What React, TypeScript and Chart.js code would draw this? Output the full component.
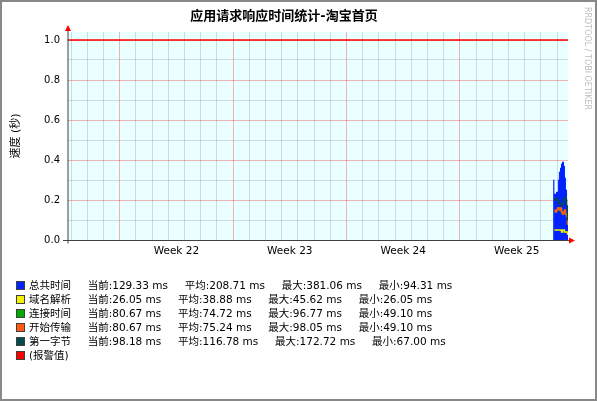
import React, { useEffect, useRef } from "react";
import { Chart, registerables } from "chart.js";

Chart.register(...registerables);

// ---------- text ----------
const chartTitle = "应用请求响应时间统计-淘宝首页";
const yAxisTitle = "速度 (秒)";
const watermark = "RRDTOOL / TOBI OETIKER";

// ---------- x axis (days) ----------
const xMin = 0.78;
const xMax = 31.67;
const dayLines = [1, 2, 3, 4, 5, 6, 7, 8, 9, 10, 11, 12, 13, 14, 15, 16, 17, 18, 19, 20, 21, 22, 23, 24, 25, 26, 27, 28, 29, 30, 31];
const weekStarts = [4, 11, 18, 25];
const weekLabelPos = [7.5, 14.5, 21.5, 28.5];
const weekLabels = ["Week 22", "Week 23", "Week 24", "Week 25"];

// ---------- y axis (seconds) ----------
const yMaxValue = 1.04;
const yTicks = [0, 0.1, 0.2, 0.3, 0.4, 0.5, 0.6, 0.7, 0.8, 0.9, 1.0];
const alarmLevel = 1.0;

// ---------- series ----------
const times = [30.76, 30.8, 30.83, 30.9, 30.96, 31.02, 31.08, 31.14, 31.21, 31.27, 31.33, 31.39, 31.45, 31.51, 31.58, 31.64, 31.67];
const totalTime = [0.3, 0.0, 0.23, 0.22, 0.24, 0.23, 0.3, 0.34, 0.36, 0.38, 0.39, 0.37, 0.31, 0.25, 0.13, 0.13, 0.13];
const dnsTime = [null, null, 0.05, 0.05, 0.05, 0.05, 0.05, 0.05, 0.05, 0.04, 0.05, 0.05, 0.04, 0.04, 0.04, 0.03, 0.03];
const connectTime = [null, null, 0.14, 0.14, 0.15, 0.15, 0.16, 0.15, 0.15, 0.14, 0.13, 0.14, 0.14, 0.13, 0.12, 0.08, 0.08];
const startTransfer = [null, null, 0.15, 0.14, 0.15, 0.16, 0.16, 0.15, 0.16, 0.14, 0.13, 0.14, 0.15, 0.13, 0.12, 0.08, 0.08];
const firstByte = [null, null, 0.2, 0.21, 0.2, 0.2, 0.19, 0.18, 0.18, 0.17, 0.18, 0.2, 0.21, 0.2, 0.17, 0.1, 0.1];

// ---------- legend ----------
const seriesNames = ["总共时间", "域名解析", "连接时间", "开始传输", "第一字节"];
const currentMs = ["129.33", "26.05", "80.67", "80.67", "98.18"];
const averageMs = ["208.71", "38.88", "74.72", "75.24", "116.78"];
const maximumMs = ["381.06", "45.62", "96.77", "98.05", "172.72"];
const minimumMs = ["94.31", "26.05", "49.10", "49.10", "67.00"];
const alarmName = "(报警值)";

const seriesColors = ["#0022FF", "#F2F200", "#00AA00", "#FF5A10", "#004C4C"];
const alarmColor = "#FF0000";

const FONT = "'DejaVu Sans', 'Noto Sans CJK SC', sans-serif";
const MAJOR = "rgba(255,0,0,0.30)";
const MINOR = "rgba(130,140,140,0.30)";

const rrdPlugin = {
  id: "rrdDecor",
  beforeDatasetsDraw(chart: any) {
    // nothing; background drawn in beforeDraw
  },
  beforeDraw(chart: any) {
    const { ctx, chartArea: a } = chart;
    ctx.save();
    ctx.fillStyle = "#EAFFFF";
    ctx.fillRect(a.left, a.top, a.right - a.left, a.bottom - a.top);
    ctx.restore();
  },
  afterDraw(chart: any) {
    const { ctx, chartArea: a } = chart;
    const yb = Math.round(a.bottom) + 0.5;
    const xl = Math.round(a.left) - 0.5 + 0.5;
    ctx.save();
    ctx.strokeStyle = "#404040";
    ctx.lineWidth = 1;
    ctx.beginPath();
    ctx.moveTo(xl - 5, yb);
    ctx.lineTo(a.right + 3, yb);
    ctx.moveTo(xl, yb + 3);
    ctx.lineTo(xl, a.top - 3);
    ctx.stroke();
    ctx.fillStyle = "#FF0000";
    ctx.beginPath();
    ctx.moveTo(a.right + 1, yb - 3);
    ctx.lineTo(a.right + 7, yb);
    ctx.lineTo(a.right + 1, yb + 3);
    ctx.closePath();
    ctx.fill();
    ctx.beginPath();
    ctx.moveTo(xl - 3, a.top - 1);
    ctx.lineTo(xl, a.top - 7);
    ctx.lineTo(xl + 3, a.top - 1);
    ctx.closePath();
    ctx.fill();
    ctx.restore();
  },
};

function toPoints(arr: (number | null)[]) {
  return times.map((t, i) => ({ x: t, y: arr[i] }));
}

export default function App() {
  const canvasRef = useRef<HTMLCanvasElement | null>(null);

  useEffect(() => {
    const canvas = canvasRef.current;
    if (!canvas) return;
    const lineSeries = [dnsTime, connectTime, startTransfer, firstByte];
    const chart = new Chart(canvas, {
      type: "line",
      data: {
        datasets: [
          {
            label: alarmName,
            data: [
              { x: xMin, y: alarmLevel },
              { x: xMax, y: alarmLevel },
            ],
            borderColor: alarmColor,
            borderWidth: 1.5,
            pointRadius: 0,
            fill: false,
            order: 0,
          },
          ...lineSeries
            .map((arr, i) => ({
              label: seriesNames[i + 1],
              data: toPoints(arr),
              borderColor: seriesColors[i + 1],
              borderWidth: 1.5,
              pointRadius: 0,
              stepped: true,
              fill: false,
              spanGaps: false,
              order: 4 - i,
            }))
            .reverse(),
          {
            label: seriesNames[0],
            data: toPoints(totalTime),
            borderColor: seriesColors[0],
            backgroundColor: seriesColors[0],
            borderWidth: 1,
            pointRadius: 0,
            stepped: true,
            fill: "origin",
            order: 10,
          },
        ] as any,
      },
      options: {
        animation: false,
        responsive: false,
        devicePixelRatio: 1,
        layout: { padding: { left: 0, right: 29, top: 0, bottom: 0 } },
        plugins: {
          legend: { display: false },
          tooltip: { enabled: false },
          title: {
            display: true,
            text: chartTitle,
            color: "#000",
            font: { family: FONT, size: 13, weight: "bold" },
            padding: { top: 9.2, bottom: 7.2 },
          },
        },
        scales: {
          x: {
            type: "linear",
            min: xMin,
            max: xMax,
            afterBuildTicks: (scale: any) => {
              const vals = [...dayLines, ...weekLabelPos].sort((a, b) => a - b);
              scale.ticks = vals.map((v) => ({ value: v }));
            },
            afterFit: (scale: any) => {
              scale.height = 161;
            },
            border: { display: false },
            grid: {
              drawTicks: false,
              color: (ctx: any) => {
                const v = ctx.tick ? ctx.tick.value : null;
                if (weekLabelPos.includes(v)) return "rgba(0,0,0,0)";
                if (weekStarts.includes(v)) return MAJOR;
                return MINOR;
              },
            },
            ticks: {
              autoSkip: false,
              maxRotation: 0,
              minRotation: 0,
              padding: 5.2,
              color: "#000",
              font: { family: FONT, size: 10.5 },
              callback: (v: any) => {
                const i = weekLabelPos.indexOf(v);
                return i >= 0 ? weekLabels[i] : "";
              },
            },
          },
          y: {
            type: "linear",
            min: 0,
            max: yMaxValue,
            afterBuildTicks: (scale: any) => {
              scale.ticks = yTicks.map((v) => ({ value: v }));
            },
            afterFit: (scale: any) => {
              scale.width = 67.5;
            },
            border: { display: false },
            grid: {
              drawTicks: false,
              color: (ctx: any) => {
                const v = ctx.tick ? ctx.tick.value : 0;
                return Math.round(v * 10) % 2 === 0 ? MAJOR : MINOR;
              },
            },
            title: {
              display: true,
              text: yAxisTitle,
              color: "#000",
              font: { family: FONT, size: 11 },
              padding: { top: 9.4, bottom: 0 },
            },
            ticks: {
              autoSkip: false,
              padding: 7.5,
              color: "#000",
              font: { family: FONT, size: 10 },
              callback: (v: any) => (Math.round(v * 10) % 2 === 0 ? Number(v).toFixed(1) : ""),
            },
          },
        },
      } as any,
      plugins: [rrdPlugin],
    });
    return () => chart.destroy();
  }, []);

  const rowCenters = [285, 299, 313, 327, 341, 355];
  const gap = "     ";

  return (
    <div
      style={{
        position: "fixed",
        left: 0,
        top: 0,
        width: 597,
        height: 401,
        background: "#FFFFFF",
        overflow: "hidden",
        fontFamily: FONT,
      }}
    >
      <canvas ref={canvasRef} width={597} height={401} style={{ position: "absolute", left: 0, top: 0, width: 597, height: 401 }} />
      {seriesNames.map((name, i) => (
        <React.Fragment key={name}>
          <div
            style={{
              position: "absolute",
              left: 16,
              top: rowCenters[i] - 4.5,
              width: 7,
              height: 7,
              background: seriesColors[i],
              border: "1px solid #404040",
            }}
          />
          <span
            style={{
              position: "absolute",
              left: 29,
              top: rowCenters[i] - 6,
              fontSize: 10.5,
              lineHeight: "12px",
              whiteSpace: "pre",
              color: "#000",
            }}
          >
            {`${name}${gap}当前:${currentMs[i]} ms${gap}平均:${averageMs[i]} ms${gap}最大:${maximumMs[i]} ms${gap}最小:${minimumMs[i]} ms`}
          </span>
        </React.Fragment>
      ))}
      <div
        style={{
          position: "absolute",
          left: 16,
          top: rowCenters[5] - 4.5,
          width: 7,
          height: 7,
          background: alarmColor,
          border: "1px solid #404040",
        }}
      />
      <span
        style={{
          position: "absolute",
          left: 29,
          top: rowCenters[5] - 6,
          fontSize: 10.5,
          lineHeight: "12px",
          whiteSpace: "pre",
          color: "#000",
        }}
      >
        {alarmName}
      </span>
      <span
        style={{
          position: "absolute",
          left: 582,
          top: 7,
          writingMode: "vertical-rl",
          fontSize: 8,
          lineHeight: "10px",
          color: "#BDBDBD",
          whiteSpace: "pre",
        }}
      >
        {watermark}
      </span>
      <div
        style={{
          position: "absolute",
          left: 0,
          top: 0,
          width: 597,
          height: 401,
          boxSizing: "border-box",
          border: "2px solid #888888",
          pointerEvents: "none",
        }}
      />
    </div>
  );
}
